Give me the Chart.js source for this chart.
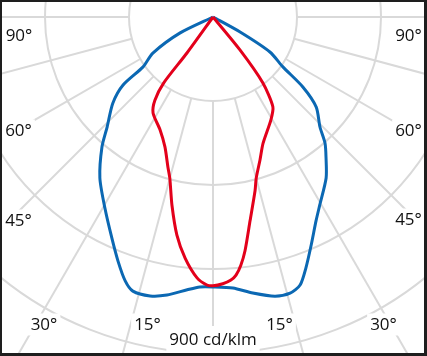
<!DOCTYPE html>
<html>
<head>
<meta charset="utf-8">
<script src="https://cdn.jsdelivr.net/npm/chart.js@4/dist/chart.umd.min.js"></script>
<style>
  html, body { margin: 0; padding: 0; background: #ffffff; }
  #wrap { position: relative; width: 427px; height: 356px; }
</style>
</head>
<body>
<div id="wrap"><canvas id="c"></canvas></div>
<script>
// ---- data (gamma angle in degrees, negative = left half; intensity in cd/klm) ----
const blueAngles = [-64, -64.1, -59, -54.5, -52.9, -49.3, -43.9, -40.5, -35.1, -29.5, -24.6, -21.3, -18.4, -16.3, -12.7, -9.4, -5.4, -2.8, 0, 4.2, 8.2, 12.5, 15.6, 18.0, 20.3, 23.3, 26.8, 29.6, 35.1, 38.9, 41.6, 44.2, 48.9, 52.1, 54.5, 58.4, 61, 61];
const blueValues = [0, 99, 188, 230, 302, 354, 409, 458, 527, 588, 651, 701, 745, 765, 766, 755, 734, 724, 723, 728, 747, 766, 768, 755, 717, 665, 612, 579, 527, 482, 452, 411, 367, 305, 230, 179, 83, 0];
const redAngles = [-37, -35.9, -36.8, -34.9, -32, -25.1, -20.3, -16.7, -15, -12.3, -9.4, -6.6, -3.5, -1.3, 0, 2.1, 3.9, 5.1, 6.4, 7.8, 10.3, 13.6, 15, 18.2, 21.6, 29.4, 33.7, 37.1, 39.3, 39];
const redValues = [0, 119, 221, 272, 303, 334, 371, 420, 447, 516, 592, 650, 700, 718, 720, 715, 706, 694, 669, 632, 555, 479, 447, 403, 364, 316, 289, 221, 114, 0];

const ringValues = [225, 450, 675, 900];
const spokeAngles = [-180, -165, -150, -135, -120, -105, -90, -75, -60, -45, -30, -15, 0, 15, 30, 45, 60, 75, 90, 105, 120, 135, 150, 165, 180];
const angleTickLabels = ['90°', '60°', '45°', '30°', '15°'];
const unitLabel = '900 cd/klm';

// ---- layout ----
const W = 427, H = 356;
const CENTER = { x: 213, y: 17 };
const PX_PER_UNIT = 84 / 225;
const labelPos = {
  left:  [[19, 35], [18.5, 130.5], [18.5, 220.5], [44, 324.5], [147.5, 324.5]],
  right: [[408.5, 35], [408.5, 130.5], [408.5, 219.5], [383.5, 324.5], [279.5, 324.5]]
};
const unitPos = [213, 339];

function toXY(angles, values) {
  return angles.map((a, i) => {
    const r = values[i], t = a * Math.PI / 180;
    return { x: r * Math.sin(t), y: -r * Math.cos(t) };
  });
}

const gridPlugin = {
  id: 'polarGrid',
  beforeDatasetsDraw(chart) {
    const { ctx, chartArea, scales: { x, y } } = chart;
    const cx = x.getPixelForValue(0), cy = y.getPixelForValue(0);
    ctx.save();
    ctx.beginPath();
    ctx.rect(chartArea.left, chartArea.top, chartArea.right - chartArea.left, chartArea.bottom - chartArea.top);
    ctx.clip();
    ctx.strokeStyle = '#d9d9d9';
    ctx.lineWidth = 2;
    ringValues.forEach(v => {
      const r = x.getPixelForValue(v) - cx;
      ctx.beginPath();
      ctx.arc(cx, cy, r, 0, Math.PI * 2);
      ctx.stroke();
    });
    const r0 = ringValues[0];
    spokeAngles.forEach(a => {
      const t = a * Math.PI / 180;
      const p0x = x.getPixelForValue(r0 * Math.sin(t)), p0y = y.getPixelForValue(-r0 * Math.cos(t));
      const p1x = x.getPixelForValue(3000 * Math.sin(t)), p1y = y.getPixelForValue(-3000 * Math.cos(t));
      ctx.beginPath();
      ctx.moveTo(p0x, p0y);
      ctx.lineTo(p1x, p1y);
      ctx.stroke();
    });
    ctx.restore();
  },
  afterDatasetsDraw(chart) {
    const { ctx } = chart;
    ctx.save();
    ctx.font = '17px "Open Sans", sans-serif';
    ctx.textAlign = 'center';
    ctx.textBaseline = 'middle';
    const drawLabel = (txt, px, py, padX, padTop, padBottom) => {
      const w = ctx.measureText(txt).width;
      ctx.fillStyle = '#ffffff';
      ctx.fillRect(px - w / 2 - padX, py - 7 - padTop, w + padX * 2, 14 + padTop + padBottom);
      ctx.fillStyle = '#111111';
      ctx.fillText(txt, px, py + 1);
    };
    angleTickLabels.forEach((t, i) => {
      drawLabel(t, labelPos.left[i][0], labelPos.left[i][1], 3, 4, 4);
      drawLabel(t, labelPos.right[i][0], labelPos.right[i][1], 3, 4, 4);
    });
    drawLabel(unitLabel, unitPos[0], unitPos[1], 3, 6, 14);
    // frame
    ctx.fillStyle = '#1e1e1e';
    ctx.fillRect(0, 0, W, 2);
    ctx.fillRect(0, 0, 2, H);
    ctx.fillRect(W - 3, 0, 3, H);
    ctx.fillRect(0, H - 3, W, 3);
    ctx.restore();
  }
};

new Chart(document.getElementById('c'), {
  type: 'scatter',
  data: {
    datasets: [
      {
        label: 'C90-C270',
        data: toXY(redAngles, redValues),
        showLine: true,
        borderColor: '#e3001b',
        borderWidth: 3,
        pointRadius: 0,
        tension: 0.25,
        fill: false
      },
      {
        label: 'C0-C180',
        data: toXY(blueAngles, blueValues),
        showLine: true,
        borderColor: '#0b68b3',
        borderWidth: 3,
        pointRadius: 0,
        tension: 0.25,
        fill: false
      }
    ]
  },
  options: {
    responsive: true,
    maintainAspectRatio: false,
    animation: false,
    layout: { padding: 0 },
    plugins: { legend: { display: false }, tooltip: { enabled: false } },
    scales: {
      x: { type: 'linear', display: false, min: -CENTER.x / PX_PER_UNIT, max: (W - CENTER.x) / PX_PER_UNIT },
      y: { type: 'linear', display: false, min: -(H - CENTER.y) / PX_PER_UNIT, max: CENTER.y / PX_PER_UNIT }
    }
  },
  plugins: [gridPlugin]
});
</script>
</body>
</html>
